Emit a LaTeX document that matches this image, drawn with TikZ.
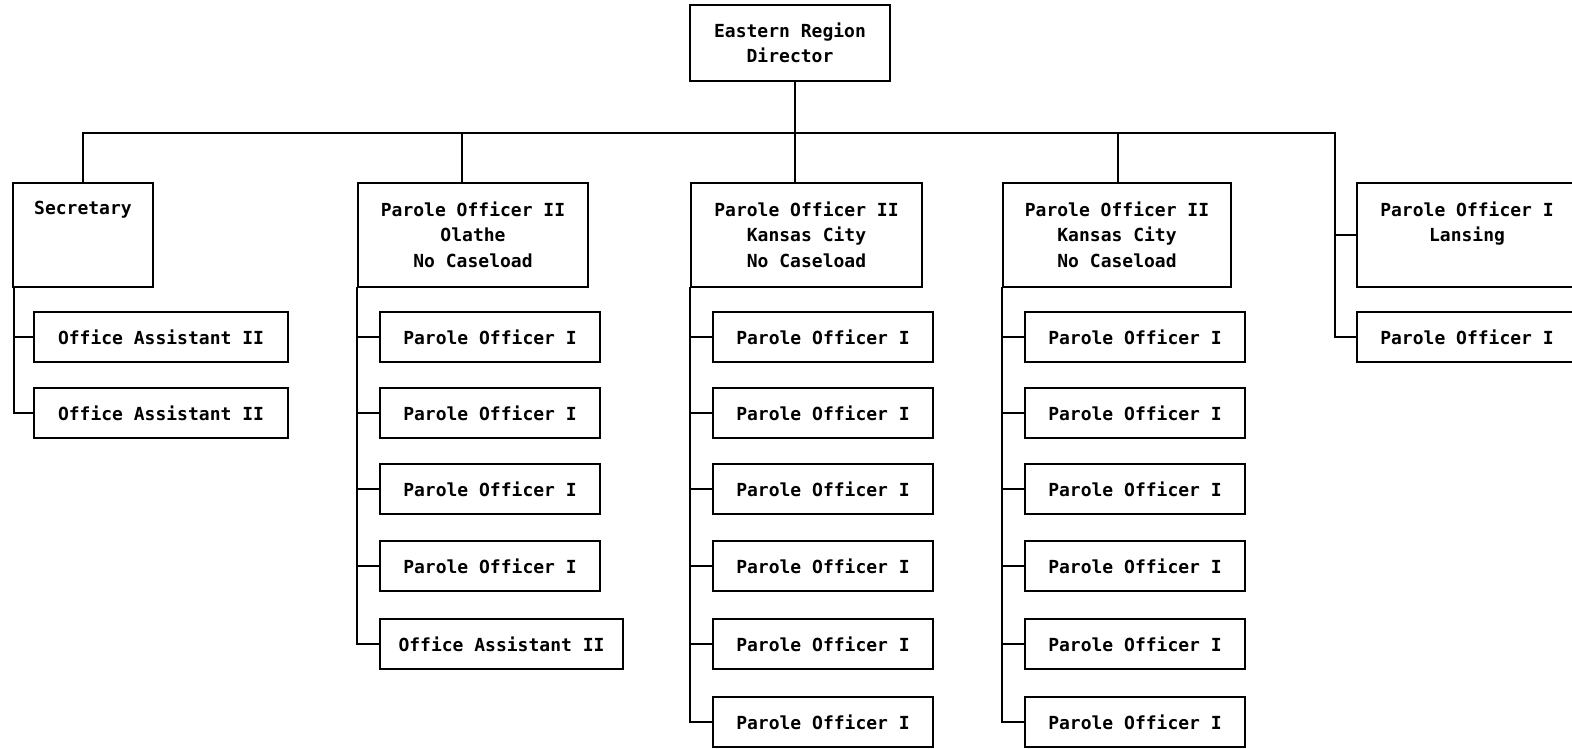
\documentclass[tikz,border=0pt]{standalone}
\usepackage{fontspec}
\setmonofont{DejaVu Sans Mono}
\newcommand\orgfont{\fontsize{18}{25.5}\selectfont\ttfamily\bfseries}
\begin{document}
\begin{tikzpicture}[x=1pt,y=-1pt,
  box/.style={draw, line width=2.2pt, inner sep=0pt, font=\orgfont, align=center},
  topbox/.style={box, minimum height=104pt},
  kid/.style={box, minimum height=50pt, minimum width=220pt},
  toptext/.style={anchor=north, align=center, inner sep=0pt, font=\orgfont, yshift=-19.5pt},
  wire/.style={line width=2.4pt, line cap=rect}]
\useasboundingbox (0,0) rectangle (1572,748);
\clip (0,0) rectangle (1572,748);
\fill[white] (0,0) rectangle (1572,748);

% director
\node[box, minimum width=200pt, minimum height=76pt] (dir) at (790,43) {Eastern Region\\Director};

% top row
\node[topbox, minimum width=140pt, label={[toptext, name=sect]north:Secretary}] (sec) at (83,235) {};
\node[topbox, minimum width=230pt, label={[toptext, name=po1t]north:{Parole Officer II\\Olathe\\No Caseload}}] (po1) at (473,235) {};
\node[topbox, minimum width=231pt, label={[toptext, name=po2t]north:{Parole Officer II\\Kansas City\\No Caseload}}] (po2) at (806.5,235) {};
\node[topbox, minimum width=228pt, label={[toptext, name=po3t]north:{Parole Officer II\\Kansas City\\No Caseload}}] (po3) at (1117,235) {};
\node[topbox, minimum width=220pt, label={[toptext, name=lant]north:{Parole Officer I\\Lansing}}] (lan) at (1467,235) {};

% secretary children
\node[kid, minimum width=254pt] (s1) at (161,337) {Office Assistant II};
\node[kid, minimum width=254pt] (s2) at (161,413) {Office Assistant II};

% column 1
\node[kid] (a1) at (490,337) {Parole Officer I};
\node[kid] (a2) at (490,413) {Parole Officer I};
\node[kid] (a3) at (490,489) {Parole Officer I};
\node[kid] (a4) at (490,566) {Parole Officer I};
\node[kid, minimum width=243pt] (a5) at (501.5,644) {Office Assistant II};

% column 2
\node[kid] (b1) at (823,337) {Parole Officer I};
\node[kid] (b2) at (823,413) {Parole Officer I};
\node[kid] (b3) at (823,489) {Parole Officer I};
\node[kid] (b4) at (823,566) {Parole Officer I};
\node[kid] (b5) at (823,644) {Parole Officer I};
\node[kid] (b6) at (823,722) {Parole Officer I};

% column 3
\node[kid] (c1) at (1135,337) {Parole Officer I};
\node[kid] (c2) at (1135,413) {Parole Officer I};
\node[kid] (c3) at (1135,489) {Parole Officer I};
\node[kid] (c4) at (1135,566) {Parole Officer I};
\node[kid] (c5) at (1135,644) {Parole Officer I};
\node[kid] (c6) at (1135,722) {Parole Officer I};

% lansing child
\node[kid] (l1) at (1467,337) {Parole Officer I};

% connectors
\coordinate (barL) at (83,133);
\coordinate (barR) at (1335,133);
\draw[wire] ([xshift=5pt]dir.south) -- ([xshift=-11.5pt]po2.north);
\draw[wire] (sec.north) -- (barL) -- (barR) -- (barR |- l1.west) -- (l1.west);
\draw[wire] (barR |- lan.west) -- (lan.west);
\draw[wire] ([xshift=-11pt]po1.north) -- ([xshift=-11pt]po1.north |- barL);
\draw[wire] ([xshift=1pt]po3.north) -- ([xshift=1pt]po3.north |- barL);

\draw[wire] ([xshift=2pt]sec.south west) -- ([xshift=2pt]sec.south west |- s2.west) -- (s2.west);
\draw[wire] ([xshift=2pt]sec.south west |- s1.west) -- (s1.west);

\draw[wire] (po1.south west) -- (po1.south west |- a5.west) -- (a5.west);
\foreach \n in {a1,a2,a3,a4} \draw[wire] (po1.south west |- \n.west) -- (\n.west);

\draw[wire] (po2.south west) -- (po2.south west |- b6.west) -- (b6.west);
\foreach \n in {b1,b2,b3,b4,b5} \draw[wire] (po2.south west |- \n.west) -- (\n.west);

\draw[wire] (po3.south west) -- (po3.south west |- c6.west) -- (c6.west);
\foreach \n in {c1,c2,c3,c4,c5} \draw[wire] (po3.south west |- \n.west) -- (\n.west);
\end{tikzpicture}
\end{document}
